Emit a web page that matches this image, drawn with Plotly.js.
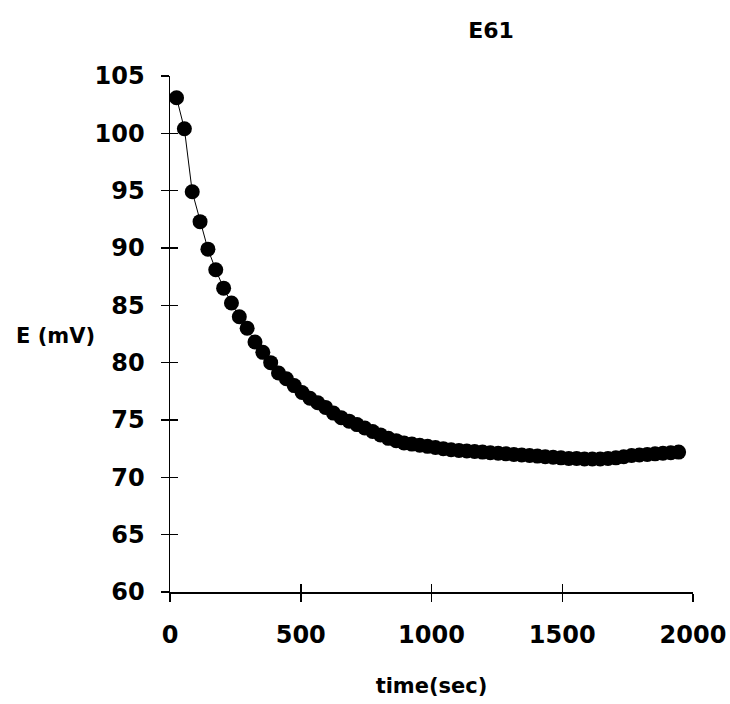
<!DOCTYPE html>
<html>
<head>
<meta charset="utf-8">
<script src="https://cdn.plot.ly/plotly-3.0.1.min.js"></script>
<style>html,body{margin:0;padding:0;background:#fff;}#chart{width:730px;height:704px;}</style>
</head>
<body>
<div id="chart"></div>
<script>
// time in seconds
const timeSec = [25, 55, 85, 115, 145, 175, 205, 235, 265, 295,
  325, 355, 385, 415, 445, 475, 505, 535, 565, 595,
  625, 655, 685, 715, 745, 775, 805, 835, 865, 895,
  925, 955, 985, 1015, 1045, 1075, 1105, 1135, 1165, 1195,
  1225, 1255, 1285, 1315, 1345, 1375, 1405, 1435, 1465, 1495,
  1525, 1555, 1585, 1615, 1645, 1675, 1705, 1735, 1765, 1795,
  1825, 1855, 1885, 1915, 1945];
// potential in mV
const potentialMV = [103.1, 100.4, 94.9, 92.3, 89.9, 88.1, 86.5, 85.2, 84.0, 83.0,
  81.8, 80.9, 80.0, 79.1, 78.6, 78.0, 77.4, 76.9, 76.5, 76.1,
  75.6, 75.2, 74.9, 74.6, 74.3, 74.0, 73.7, 73.4, 73.2, 73.0,
  72.9, 72.8, 72.7, 72.6, 72.5, 72.4, 72.35, 72.3, 72.25, 72.2,
  72.15, 72.1, 72.05, 72.0, 71.95, 71.9, 71.85, 71.8, 71.75, 71.7,
  71.65, 71.65, 71.6, 71.6, 71.6, 71.65, 71.7, 71.8, 71.9, 71.95,
  72.0, 72.05, 72.1, 72.15, 72.2];
const xTicks = [0, 500, 1000, 1500, 2000];
const yTicks = [60, 65, 70, 75, 80, 85, 90, 95, 100, 105];
const chartTitle = 'E61';
const xTitle = 'time(sec)';
const yTitle = 'E (mV)';

const boldFont = 'DejaVu Sans, Liberation Sans, Arial, sans-serif';

const trace = {
  x: timeSec, y: potentialMV, type: 'scatter', mode: 'lines+markers',
  line: {color: '#000', width: 1},
  marker: {color: '#000', size: 15},
  hoverinfo: 'skip', showlegend: false
};

const common = {
  showgrid: false, zeroline: false, showline: false,
  tickcolor: '#000', tickwidth: 1.5, ticklen: 8
};

const layout = {
  width: 730, height: 704,
  margin: {l: 170, r: 37, t: 76, b: 112},
  paper_bgcolor: '#fff', plot_bgcolor: '#fff',
  showlegend: false,
  title: {text: '<b>' + chartTitle + '</b>', x: 0.614, xref: 'paper', xanchor: 'center',
    y: 0.957, yref: 'container', yanchor: 'middle',
    font: {family: boldFont, size: 22, color: '#000'}},
  xaxis: Object.assign({}, common, {
    range: [0, 2000], tickvals: xTicks, ticktext: xTicks.map(v => '<b>' + v + '</b>'),
    ticks: 'outside', showline: true, linecolor: '#000', linewidth: 1.5,
    ticklabelstandoff: 13,
    tickfont: {family: boldFont, size: 24, color: '#000'},
    title: {text: '<b>' + xTitle + '</b>', standoff: 30, font: {family: boldFont, size: 21, color: '#000'}}
  }),
  yaxis: Object.assign({}, common, {
    range: [60, 105], tickvals: yTicks, ticktext: yTicks.map(v => '<b>' + v + '</b>'),
    ticks: 'outside', showline: true, linecolor: '#000', linewidth: 1.5,
    ticklabelstandoff: 11,
    tickfont: {family: boldFont, size: 24, color: '#000'}
  }),
  xaxis2: Object.assign({}, common, {
    range: [0, 2000], tickvals: xTicks, ticks: 'inside', showticklabels: false,
    overlaying: 'x', anchor: 'y', side: 'bottom'
  }),
  yaxis2: Object.assign({}, common, {
    range: [60, 105], tickvals: yTicks, ticks: 'inside', showticklabels: false,
    overlaying: 'y', anchor: 'x', side: 'left'
  }),
  annotations: [{
    text: '<b>' + yTitle + '</b>', xref: 'paper', yref: 'paper',
    x: -0.218, y: 0.497, xanchor: 'center', yanchor: 'middle', showarrow: false,
    font: {family: boldFont, size: 21, color: '#000'}
  }]
};

const dummy = {x: [], y: [], xaxis: 'x2', yaxis: 'y2', type: 'scatter', mode: 'markers', showlegend: false, hoverinfo: 'skip'};

Plotly.newPlot('chart', [trace, dummy], layout, {displayModeBar: false, staticPlot: true});
</script>
</body>
</html>
